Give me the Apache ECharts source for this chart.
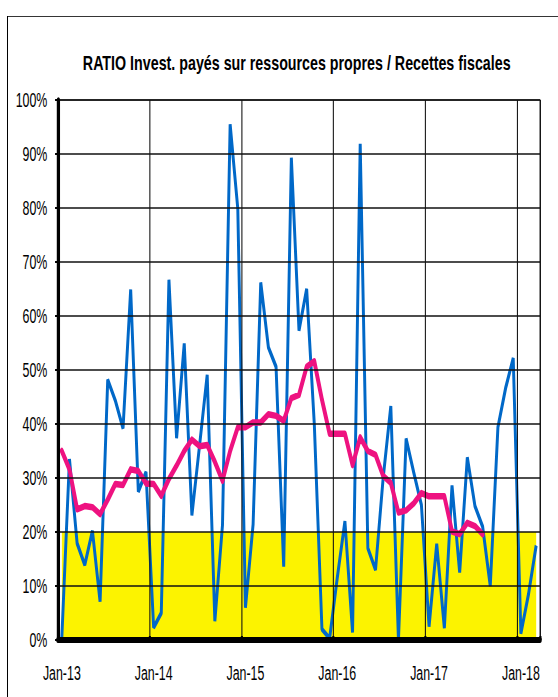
<!DOCTYPE html>
<html>
<head>
<meta charset="utf-8">
<script src="https://cdn.jsdelivr.net/npm/echarts@6/dist/echarts.min.js"></script>
<style>
html,body{margin:0;padding:0;background:#fff;overflow:hidden;width:558px;height:697px;}
#wrap{position:absolute;left:0;top:0;width:558px;height:697px;overflow:hidden;}
#chart{position:absolute;left:0;top:0;height:697px;transform-origin:0 0;}
</style>
</head>
<body>
<div id="wrap"><div id="chart"></div></div>
<script>
// ---- data ----
const monthNames = ['Jan','Feb','Mar','Apr','May','Jun','Jul','Aug','Sep','Oct','Nov','Dec'];
const years = ['13','14','15','16','17','18'];
const categories = [];
years.forEach(y => monthNames.forEach(m => categories.push(m + '-' + y)));
categories.length = 63; // Jan-13 .. Mar-18

// monthly ratio (%)
const ratioMonthly = [
  0.4, 33.5, 17.9, 13.9, 20.2, 7.1, 48.2, 44.3, 39.2, 64.9, 27.5, 31.1,
  2.3, 5.0, 66.7, 37.4, 54.9, 23.1, 36.0, 49.1, 3.5, 21.3, 95.5, 79.9,
  6.0, 21.4, 66.2, 54.2, 50.6, 13.6, 89.3, 57.3, 65.0, 40.0, 2.0, 0.3,
  11.5, 22.0, 1.4, 91.9, 17.0, 13.0, 30.0, 43.3, 0.0, 37.3, 31.0, 25.0,
  2.5, 17.8, 2.2, 28.6, 12.5, 33.8, 24.8, 21.0, 10.0, 39.4, 46.6, 52.2,
  1.2, 8.5, 17.5
];
// rolling 12-month ratio (%)
const ratioRolling = [
  35.0, 31.6, 24.2, 24.8, 24.6, 23.3, 26.0, 28.9, 28.7, 31.6, 31.3, 29.0,
  28.9, 26.7, 29.8, 32.3, 35.0, 37.1, 35.9, 36.1, 33.0, 29.5, 35.0, 39.4,
  39.4, 40.3, 40.3, 41.8, 41.5, 40.6, 44.8, 45.4, 50.6, 51.6, 44.5, 38.2,
  38.2, 38.2, 32.4, 37.5, 35.0, 34.3, 30.4, 29.1, 23.6, 24.0, 25.3, 27.2,
  26.6, 26.6, 26.6, 20.1, 19.6, 21.7, 21.1, 19.6
];
const threshold = 20;
const yTicks = [0,10,20,30,40,50,60,70,80,90,100];
const titleText = 'RATIO Invest. payés sur ressources propres / Recettes fiscales';

// ---- layout (horizontal compression like the original) ----
const K = 0.59;
const W = 558 / K;
const el = document.getElementById('chart');
el.style.width = W + 'px';
el.style.transform = 'scaleX(' + K + ')';

const chart = echarts.init(el, null, {renderer: 'svg', width: W, height: 697});
const sans = "'Liberation Sans',Arial,sans-serif";

chart.setOption({
  animation: false,
  backgroundColor: '#fff',
  graphic: [
    {type: 'line', z: 10, shape: {x1: 7.5 / K, y1: 16, x2: 7.5 / K, y2: 700}, style: {stroke: '#000', lineWidth: 1.7}},
    {type: 'line', z: 10, shape: {x1: 7.5 / K, y1: 16.5, x2: W + 10, y2: 16.5}, style: {stroke: '#000', lineWidth: 1}},
    {
      type: 'text', z: 10,
      x: 296.7 / K, y: 64,
      scaleX: 1.24,
      style: {text: titleText, fontFamily: sans, fontWeight: 'bold', fontSize: 19.5,
              align: 'center', verticalAlign: 'middle', fill: '#000'}
    }
  ],
  grid: {
    left: 58 / K, right: 18 / K, top: 100, bottom: 57,
    show: true, borderColor: '#333', borderWidth: 1.6, backgroundColor: 'transparent'
  },
  xAxis: {
    type: 'category',
    data: categories,
    boundaryGap: true,
    z: 5,
    axisLine: {show: true, lineStyle: {color: '#000', width: 6}},
    axisTick: {show: true, inside: true, interval: 11, length: 4, lineStyle: {color: '#000', width: 3.5}},
    axisLabel: {interval: 11, margin: 22, fontFamily: sans, fontSize: 21, color: '#000'},
    splitLine: {show: true, interval: 11, lineStyle: {color: '#111', width: 1.8}}
  },
  yAxis: {
    type: 'value',
    min: yTicks[0], max: yTicks[yTicks.length - 1], interval: 10,
    z: 5,
    axisLine: {show: true, lineStyle: {color: '#000', width: 5.5}},
    axisTick: {show: true, length: 5, lineStyle: {color: '#000', width: 2}},
    axisLabel: {formatter: '{value}%', margin: 18, fontFamily: sans, fontSize: 21, color: '#000'},
    splitLine: {show: true, lineStyle: {color: '#111', width: 1.5}}
  },
  series: [
    {
      name: 'Mensuel',
      type: 'line',
      data: ratioMonthly,
      showSymbol: false,
      z: 3,
      lineStyle: {color: '#0068C8', width: 5},
      itemStyle: {color: '#0068C8'},
      markArea: {
        silent: true,
        itemStyle: {color: '#FCF300', opacity: 1},
        data: [[{xAxis: categories[0], yAxis: 0}, {xAxis: categories[categories.length - 1], yAxis: threshold}]]
      }
    },
    {
      name: 'Glissant 12 mois',
      type: 'line',
      data: ratioRolling,
      showSymbol: false,
      z: 4,
      lineStyle: {color: '#EE1280', width: 6.5, join: 'round', cap: 'round'},
      itemStyle: {color: '#EE1280'}
    }
  ]
});
</script>
</body>
</html>
